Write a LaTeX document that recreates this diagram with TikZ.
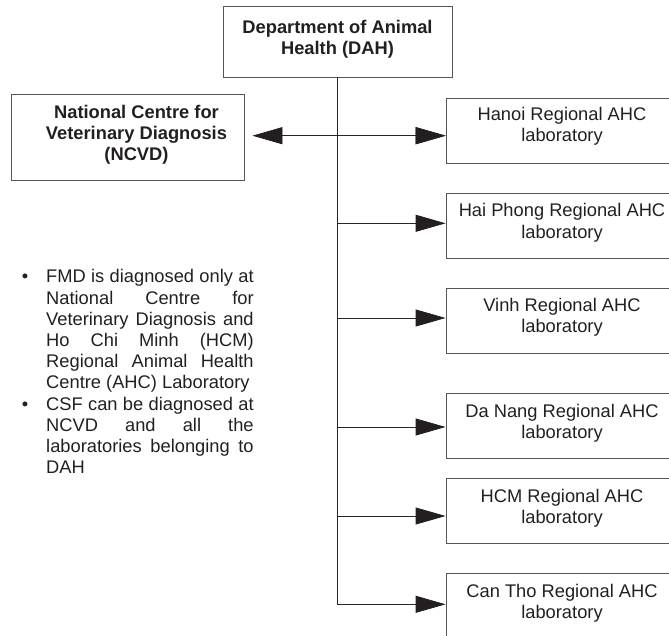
\documentclass[tikz,border=0pt]{standalone}
\usepackage{fontspec}
\setmainfont{Liberation Sans}
\usetikzlibrary{positioning,arrows.meta}
\definecolor{framegray}{HTML}{555555}
\definecolor{inkgray}{HTML}{231F20}
\tikzstyle{unit}=[draw=framegray, line width=0.8pt, inner sep=0pt, minimum width=232pt, minimum height=65pt]
\tikzstyle{caption}=[align=center, inner sep=0pt, text=inkgray, font=\fontsize{18.3}{21.2}\selectfont]
\tikzstyle{feed}=[draw=black!85, line width=0.8pt, -{Triangle[length=30pt,width=17pt,color=inkgray]}]
\tikzstyle{twoway}=[draw=black!85, line width=0.8pt, {Triangle[length=30pt,width=17pt,color=inkgray]}-{Triangle[length=30pt,width=17pt,color=inkgray]}]

\begin{document}
\begin{tikzpicture}[x=1pt,y=-1pt]
    \useasboundingbox (0,0) rectangle (669,636);

    \begin{scope}[every node/.style={unit}]
        \node (dah) at (337.5,41.5) [minimum width=229pt, minimum height=71pt] {};
        \node (ncvd) at (127.5,137) [minimum width=233pt, minimum height=86pt] {};
        \node (hanoi) at (562,131) {};
        \node (haiphong) at (562,225.8) {};
        \node (vinh) at (562,320.5) {};
        \node (danang) at (562,426) {};
        \node (hcm) at (562,511) {};
        \node (cantho) at (562,606) {};
    \end{scope}

    \begin{scope}[every node/.style={caption}]
        \node (t-dah) [below=14.5pt of dah.north] {\bfseries Department of Animal\\\bfseries Health (DAH)};
        \node (t-ncvd) [below=11pt of ncvd.north, xshift=9pt] {\bfseries National Centre for\\\bfseries Veterinary Diagnosis\\\bfseries (NCVD)};
        \node (t-hanoi) [below=8.5pt of hanoi.north] {Hanoi Regional AHC\\laboratory};
        \node (t-haiphong) [below=10.5pt of haiphong.north] {Hai Phong Regional AHC\\laboratory};
        \node (t-vinh) [below=10.5pt of vinh.north] {Vinh Regional AHC\\laboratory};
        \node (t-danang) [below=10.5pt of danang.north] {Da Nang Regional AHC\\laboratory};
        \node (t-hcm) [below=10.5pt of hcm.north] {HCM Regional AHC\\laboratory};
        \node (t-cantho) [below=10.5pt of cantho.north] {Can Tho Regional AHC\\laboratory};
    \end{scope}

    % notes on the left
    \node (notes) [caption, anchor=north west, text width=207.5pt, align=justify] at (46,269.5) {%
        \setlength{\parindent}{0pt}%
        \leavevmode\llap{•\hspace{18pt}}FMD is diagnosed only at\linebreak
        National Centre for\linebreak
        Veterinary Diagnosis and\linebreak
        Ho Chi Minh (HCM)\linebreak
        Regional Animal Health\linebreak
        Centre (AHC) Laboratory\par
        \leavevmode\llap{•\hspace{18pt}}CSF can be diagnosed at\linebreak
        NCVD and all the\linebreak
        laboratories belonging to\linebreak
        DAH\par};

    % links
    \coordinate (hanoi-in) at ([yshift=-4.7pt]hanoi.west);
    \draw[twoway, shorten <=8pt] (ncvd.east |- hanoi-in) -- (hanoi-in);
    \foreach \lab/\dy in {hanoi/-4.7, haiphong/2.5, vinh/2.5, danang/-1, hcm/-5, cantho/1.7}
        \draw[feed] (dah.south) |- ([yshift=\dy pt]\lab.west);
\end{tikzpicture}
\end{document}
